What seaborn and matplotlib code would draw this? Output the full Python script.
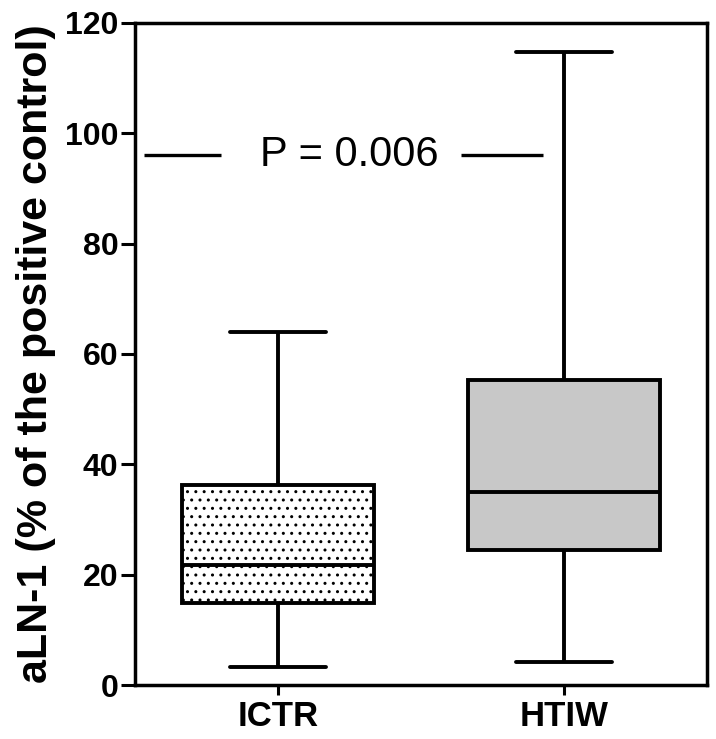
import numpy as np
import pandas as pd
import matplotlib
matplotlib.use("Agg")
import matplotlib.pyplot as plt
import seaborn as sns

# ── Données (résumé à 5 valeurs : min, Q1, médiane, Q3, max) ──
groups = ["ICTR", "HTIW"]
ictr_values = [3.3, 14.9, 21.8, 36.3, 63.9]
htiw_values = [4.2, 24.5, 34.9, 55.3, 114.7]
box_colors = ["white", "#c8c8c8"]
p_label = "P = 0.006"
p_level = 96
y_ticks = [0, 20, 40, 60, 80, 100, 120]

df = pd.DataFrame({
    "group": [groups[0]] * len(ictr_values) + [groups[1]] * len(htiw_values),
    "value": ictr_values + htiw_values,
})

sns.set_style("ticks")
plt.rcParams["font.family"] = ["Liberation Sans", "DejaVu Sans"]
plt.rcParams["text.color"] = "black"
plt.rcParams["axes.labelcolor"] = "black"

fig = plt.figure(figsize=(7.16, 7.39), dpi=100)
ax = fig.add_axes([0.1885, 0.073, 0.7985, 0.896])

lw = 2.8
sns.boxplot(
    data=df, x="group", y="value", hue="group", order=groups,
    palette=dict(zip(groups, box_colors)), legend=False,
    whis=(0, 100), width=0.67, linecolor="black", linewidth=lw,
    medianprops={"color": "black", "linewidth": lw},
    ax=ax,
)

# motif pointillé pour la boîte ICTR
ax.patches[0].set_hatch("..")
ax.patches[0].set_edgecolor("black")

# barre de significativité
ax.hlines(p_level, -0.467, -0.199, color="black", linewidth=2.4)
ax.hlines(p_level, 0.641, 0.927, color="black", linewidth=2.4)
ax.text(0.251, p_level, p_label, ha="center", va="center", fontsize=30,
        color="black")

ax.set_xlim(-0.5, 1.5)
ax.set_ylim(0, 120)
ax.set_yticks(y_ticks)
ax.set_xlabel("")
ax.set_ylabel("aLN-1 (% of the positive control)", fontsize=31,
              fontweight="bold", labelpad=6, color="black")

for side in ["left", "right", "top", "bottom"]:
    ax.spines[side].set_visible(True)
    ax.spines[side].set_linewidth(2.5)
    ax.spines[side].set_color("black")
ax.tick_params(axis="both", direction="out", width=2.2, colors="black")
ax.tick_params(axis="y", labelsize=23, length=10, pad=2)
ax.tick_params(axis="x", labelsize=25, length=7, pad=4)
for lab in ax.get_xticklabels() + ax.get_yticklabels():
    lab.set_fontweight("bold")

fig.savefig("out.png", dpi=100)
